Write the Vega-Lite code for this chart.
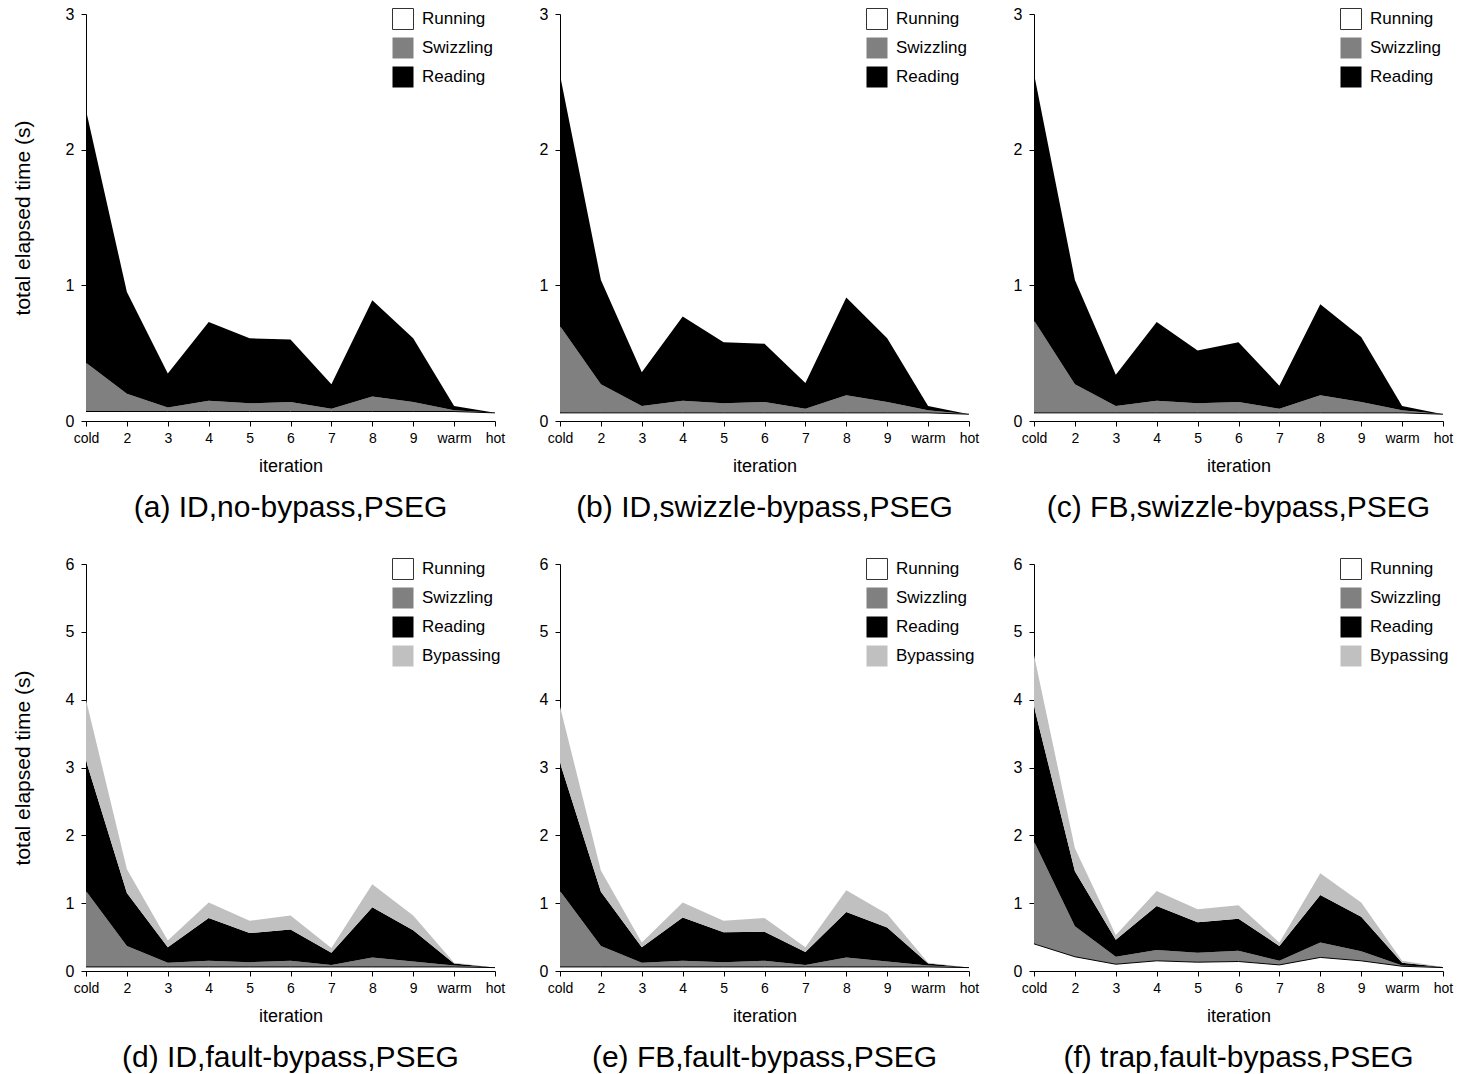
{
  "$schema": "https://vega.github.io/schema/vega-lite/v6.json",
  "padding": {"left": 12, "top": 6, "right": 5, "bottom": 5},
  "background": "white",
  "datasets": {
    "ph": [
      {"phase": "Running", "rank": 1},
      {"phase": "Swizzling", "rank": 2},
      {"phase": "Reading", "rank": 3},
      {"phase": "Bypassing", "rank": 4}
    ],
    "d": [
      {"p": "a", "it": "cold", "Running": 0.07, "Swizzling": 0.36, "Reading": 1.86},
      {"p": "a", "it": "2", "Running": 0.07, "Swizzling": 0.13, "Reading": 0.75},
      {"p": "a", "it": "3", "Running": 0.07, "Swizzling": 0.03, "Reading": 0.25},
      {"p": "a", "it": "4", "Running": 0.07, "Swizzling": 0.08, "Reading": 0.58},
      {"p": "a", "it": "5", "Running": 0.07, "Swizzling": 0.06, "Reading": 0.48},
      {"p": "a", "it": "6", "Running": 0.07, "Swizzling": 0.07, "Reading": 0.46},
      {"p": "a", "it": "7", "Running": 0.07, "Swizzling": 0.02, "Reading": 0.18},
      {"p": "a", "it": "8", "Running": 0.07, "Swizzling": 0.11, "Reading": 0.71},
      {"p": "a", "it": "9", "Running": 0.07, "Swizzling": 0.07, "Reading": 0.47},
      {"p": "a", "it": "warm", "Running": 0.07, "Swizzling": 0.01, "Reading": 0.03},
      {"p": "a", "it": "hot", "Running": 0.06, "Swizzling": 0, "Reading": 0},

      {"p": "b", "it": "cold", "Running": 0.06, "Swizzling": 0.64, "Reading": 1.85},
      {"p": "b", "it": "2", "Running": 0.06, "Swizzling": 0.21, "Reading": 0.77},
      {"p": "b", "it": "3", "Running": 0.06, "Swizzling": 0.05, "Reading": 0.25},
      {"p": "b", "it": "4", "Running": 0.06, "Swizzling": 0.09, "Reading": 0.62},
      {"p": "b", "it": "5", "Running": 0.06, "Swizzling": 0.07, "Reading": 0.45},
      {"p": "b", "it": "6", "Running": 0.06, "Swizzling": 0.08, "Reading": 0.43},
      {"p": "b", "it": "7", "Running": 0.06, "Swizzling": 0.03, "Reading": 0.19},
      {"p": "b", "it": "8", "Running": 0.06, "Swizzling": 0.13, "Reading": 0.72},
      {"p": "b", "it": "9", "Running": 0.06, "Swizzling": 0.08, "Reading": 0.47},
      {"p": "b", "it": "warm", "Running": 0.06, "Swizzling": 0.02, "Reading": 0.03},
      {"p": "b", "it": "hot", "Running": 0.05, "Swizzling": 0, "Reading": 0},

      {"p": "c", "it": "cold", "Running": 0.06, "Swizzling": 0.68, "Reading": 1.82},
      {"p": "c", "it": "2", "Running": 0.06, "Swizzling": 0.21, "Reading": 0.77},
      {"p": "c", "it": "3", "Running": 0.06, "Swizzling": 0.05, "Reading": 0.23},
      {"p": "c", "it": "4", "Running": 0.06, "Swizzling": 0.09, "Reading": 0.58},
      {"p": "c", "it": "5", "Running": 0.06, "Swizzling": 0.07, "Reading": 0.39},
      {"p": "c", "it": "6", "Running": 0.06, "Swizzling": 0.08, "Reading": 0.44},
      {"p": "c", "it": "7", "Running": 0.06, "Swizzling": 0.03, "Reading": 0.17},
      {"p": "c", "it": "8", "Running": 0.06, "Swizzling": 0.13, "Reading": 0.67},
      {"p": "c", "it": "9", "Running": 0.06, "Swizzling": 0.08, "Reading": 0.48},
      {"p": "c", "it": "warm", "Running": 0.06, "Swizzling": 0.02, "Reading": 0.03},
      {"p": "c", "it": "hot", "Running": 0.05, "Swizzling": 0, "Reading": 0},

      {"p": "d", "it": "cold", "Running": 0.06, "Swizzling": 1.12, "Reading": 1.92, "Bypassing": 0.9},
      {"p": "d", "it": "2", "Running": 0.06, "Swizzling": 0.31, "Reading": 0.78, "Bypassing": 0.35},
      {"p": "d", "it": "3", "Running": 0.06, "Swizzling": 0.06, "Reading": 0.23, "Bypassing": 0.1},
      {"p": "d", "it": "4", "Running": 0.06, "Swizzling": 0.09, "Reading": 0.63, "Bypassing": 0.23},
      {"p": "d", "it": "5", "Running": 0.06, "Swizzling": 0.07, "Reading": 0.43, "Bypassing": 0.18},
      {"p": "d", "it": "6", "Running": 0.06, "Swizzling": 0.09, "Reading": 0.46, "Bypassing": 0.21},
      {"p": "d", "it": "7", "Running": 0.06, "Swizzling": 0.03, "Reading": 0.18, "Bypassing": 0.07},
      {"p": "d", "it": "8", "Running": 0.06, "Swizzling": 0.14, "Reading": 0.74, "Bypassing": 0.34},
      {"p": "d", "it": "9", "Running": 0.06, "Swizzling": 0.08, "Reading": 0.46, "Bypassing": 0.22},
      {"p": "d", "it": "warm", "Running": 0.06, "Swizzling": 0.02, "Reading": 0.03, "Bypassing": 0.01},
      {"p": "d", "it": "hot", "Running": 0.05, "Swizzling": 0, "Reading": 0, "Bypassing": 0},

      {"p": "e", "it": "cold", "Running": 0.06, "Swizzling": 1.12, "Reading": 1.89, "Bypassing": 0.83},
      {"p": "e", "it": "2", "Running": 0.06, "Swizzling": 0.31, "Reading": 0.8, "Bypassing": 0.31},
      {"p": "e", "it": "3", "Running": 0.06, "Swizzling": 0.06, "Reading": 0.23, "Bypassing": 0.07},
      {"p": "e", "it": "4", "Running": 0.06, "Swizzling": 0.09, "Reading": 0.64, "Bypassing": 0.22},
      {"p": "e", "it": "5", "Running": 0.06, "Swizzling": 0.07, "Reading": 0.44, "Bypassing": 0.17},
      {"p": "e", "it": "6", "Running": 0.06, "Swizzling": 0.09, "Reading": 0.43, "Bypassing": 0.2},
      {"p": "e", "it": "7", "Running": 0.06, "Swizzling": 0.03, "Reading": 0.19, "Bypassing": 0.07},
      {"p": "e", "it": "8", "Running": 0.06, "Swizzling": 0.14, "Reading": 0.67, "Bypassing": 0.32},
      {"p": "e", "it": "9", "Running": 0.06, "Swizzling": 0.08, "Reading": 0.5, "Bypassing": 0.2},
      {"p": "e", "it": "warm", "Running": 0.06, "Swizzling": 0.02, "Reading": 0.03, "Bypassing": 0.01},
      {"p": "e", "it": "hot", "Running": 0.05, "Swizzling": 0, "Reading": 0, "Bypassing": 0},

      {"p": "f", "it": "cold", "Running": 0.4, "Swizzling": 1.51, "Reading": 1.99, "Bypassing": 0.76},
      {"p": "f", "it": "2", "Running": 0.21, "Swizzling": 0.45, "Reading": 0.81, "Bypassing": 0.34},
      {"p": "f", "it": "3", "Running": 0.1, "Swizzling": 0.11, "Reading": 0.25, "Bypassing": 0.07},
      {"p": "f", "it": "4", "Running": 0.15, "Swizzling": 0.16, "Reading": 0.65, "Bypassing": 0.22},
      {"p": "f", "it": "5", "Running": 0.13, "Swizzling": 0.14, "Reading": 0.45, "Bypassing": 0.19},
      {"p": "f", "it": "6", "Running": 0.14, "Swizzling": 0.16, "Reading": 0.47, "Bypassing": 0.2},
      {"p": "f", "it": "7", "Running": 0.09, "Swizzling": 0.06, "Reading": 0.22, "Bypassing": 0.05},
      {"p": "f", "it": "8", "Running": 0.2, "Swizzling": 0.22, "Reading": 0.7, "Bypassing": 0.32},
      {"p": "f", "it": "9", "Running": 0.15, "Swizzling": 0.14, "Reading": 0.51, "Bypassing": 0.21},
      {"p": "f", "it": "warm", "Running": 0.07, "Swizzling": 0.01, "Reading": 0.04, "Bypassing": 0.03},
      {"p": "f", "it": "hot", "Running": 0.05, "Swizzling": 0.01, "Reading": 0, "Bypassing": 0}
    ]
  },
  "config": {
    "view": {"stroke": null},
    "font": "Liberation Sans",
    "axis": {
      "labelFont": "Liberation Sans", "titleFont": "Liberation Sans",
      "labelColor": "#000", "titleColor": "#000", "domainColor": "#000", "tickColor": "#000",
      "grid": false, "titleFontWeight": "normal", "tickSize": 5, "domainWidth": 1, "tickWidth": 1
    },
    "axisX": {"labelFontSize": 14, "titleFontSize": 18, "labelPadding": 5, "titlePadding": 12, "labelAngle": 0},
    "axisY": {"labelFontSize": 16, "titleFontSize": 21, "labelPadding": 7, "titlePadding": 32},
    "legend": {
      "orient": "none", "legendX": 306, "legendY": -6, "symbolType": "square", "symbolSize": 441,
      "labelFontSize": 17, "labelFont": "Liberation Sans", "labelColor": "#000", "labelOffset": 8,
      "rowPadding": 3, "padding": 0, "symbolStrokeWidth": 1, "symbolOpacity": 1, "labelLimit": 200
    },
    "title": {"font": "Liberation Sans", "fontSize": 30, "fontWeight": "normal", "color": "#000", "offset": 18, "orient": "bottom", "frame": "group", "anchor": "middle"}
  },
  "columns": 3,
  "spacing": {"row": 143, "column": 65},
  "bounds": "flush",
  "resolve": {"scale": {"color": "independent"}, "legend": {"color": "independent"}},
  "concat": [
    {
      "width": 409, "height": 407,
      "title": {"text": "(a) ID,no-bypass,PSEG"},
      "data": {"name": "d"},
      "transform": [{"filter": "datum.p === 'a'"}, {"fold": ["Running", "Swizzling", "Reading"], "as": ["phase", "t"]},
        {"lookup": "phase", "from": {"data": {"name": "ph"}, "key": "phase", "fields": ["rank"]}}],
      "encoding": {
        "x": {"field": "it", "type": "ordinal", "sort": ["cold", "2", "3", "4", "5", "6", "7", "8", "9", "warm", "hot"], "scale": {"type": "point", "padding": 0}, "axis": {"title": "iteration"}},
        "y": {"field": "t", "type": "quantitative", "stack": "zero", "scale": {"domain": [0, 3], "nice": false}, "axis": {"title": "total elapsed time (s)", "values": [0, 1, 2, 3]}}
      },
      "layer": [
        {
          "mark": {"type": "area", "opacity": 1},
          "encoding": {
            "order": {"field": "rank", "type": "quantitative"},
            "color": {"field": "phase", "type": "nominal", "scale": {"domain": ["Running", "Swizzling", "Reading"], "range": ["#ffffff", "#808080", "#000000"]},
              "legend": {"title": null, "encode": {"symbols": {"update": {"stroke": {"signal": "datum.value === 'Running' ? '#333333' : 'transparent'"}}}}}}
          }
        },
        {
          "transform": [{"filter": "datum.phase === 'Running'"}],
          "mark": {"type": "line", "color": "#000", "strokeWidth": 1},
          "encoding": {"y": {"field": "t", "type": "quantitative", "stack": null}}
        }
      ]
    },
    {
      "width": 409, "height": 407,
      "title": {"text": "(b) ID,swizzle-bypass,PSEG"},
      "data": {"name": "d"},
      "transform": [{"filter": "datum.p === 'b'"}, {"fold": ["Running", "Swizzling", "Reading"], "as": ["phase", "t"]},
        {"lookup": "phase", "from": {"data": {"name": "ph"}, "key": "phase", "fields": ["rank"]}}],
      "encoding": {
        "x": {"field": "it", "type": "ordinal", "sort": ["cold", "2", "3", "4", "5", "6", "7", "8", "9", "warm", "hot"], "scale": {"type": "point", "padding": 0}, "axis": {"title": "iteration"}},
        "y": {"field": "t", "type": "quantitative", "stack": "zero", "scale": {"domain": [0, 3], "nice": false}, "axis": {"title": null, "values": [0, 1, 2, 3]}}
      },
      "layer": [
        {
          "mark": {"type": "area", "opacity": 1},
          "encoding": {
            "order": {"field": "rank", "type": "quantitative"},
            "color": {"field": "phase", "type": "nominal", "scale": {"domain": ["Running", "Swizzling", "Reading"], "range": ["#ffffff", "#808080", "#000000"]},
              "legend": {"title": null, "encode": {"symbols": {"update": {"stroke": {"signal": "datum.value === 'Running' ? '#333333' : 'transparent'"}}}}}}
          }
        },
        {
          "transform": [{"filter": "datum.phase === 'Running'"}],
          "mark": {"type": "line", "color": "#000", "strokeWidth": 1},
          "encoding": {"y": {"field": "t", "type": "quantitative", "stack": null}}
        }
      ]
    },
    {
      "width": 409, "height": 407,
      "title": {"text": "(c) FB,swizzle-bypass,PSEG"},
      "data": {"name": "d"},
      "transform": [{"filter": "datum.p === 'c'"}, {"fold": ["Running", "Swizzling", "Reading"], "as": ["phase", "t"]},
        {"lookup": "phase", "from": {"data": {"name": "ph"}, "key": "phase", "fields": ["rank"]}}],
      "encoding": {
        "x": {"field": "it", "type": "ordinal", "sort": ["cold", "2", "3", "4", "5", "6", "7", "8", "9", "warm", "hot"], "scale": {"type": "point", "padding": 0}, "axis": {"title": "iteration"}},
        "y": {"field": "t", "type": "quantitative", "stack": "zero", "scale": {"domain": [0, 3], "nice": false}, "axis": {"title": null, "values": [0, 1, 2, 3]}}
      },
      "layer": [
        {
          "mark": {"type": "area", "opacity": 1},
          "encoding": {
            "order": {"field": "rank", "type": "quantitative"},
            "color": {"field": "phase", "type": "nominal", "scale": {"domain": ["Running", "Swizzling", "Reading"], "range": ["#ffffff", "#808080", "#000000"]},
              "legend": {"title": null, "encode": {"symbols": {"update": {"stroke": {"signal": "datum.value === 'Running' ? '#333333' : 'transparent'"}}}}}}
          }
        },
        {
          "transform": [{"filter": "datum.phase === 'Running'"}],
          "mark": {"type": "line", "color": "#000", "strokeWidth": 1},
          "encoding": {"y": {"field": "t", "type": "quantitative", "stack": null}}
        }
      ]
    },
    {
      "width": 409, "height": 407,
      "title": {"text": "(d) ID,fault-bypass,PSEG"},
      "data": {"name": "d"},
      "transform": [{"filter": "datum.p === 'd'"}, {"fold": ["Running", "Swizzling", "Reading", "Bypassing"], "as": ["phase", "t"]},
        {"lookup": "phase", "from": {"data": {"name": "ph"}, "key": "phase", "fields": ["rank"]}}],
      "encoding": {
        "x": {"field": "it", "type": "ordinal", "sort": ["cold", "2", "3", "4", "5", "6", "7", "8", "9", "warm", "hot"], "scale": {"type": "point", "padding": 0}, "axis": {"title": "iteration"}},
        "y": {"field": "t", "type": "quantitative", "stack": "zero", "scale": {"domain": [0, 6], "nice": false}, "axis": {"title": "total elapsed time (s)", "values": [0, 1, 2, 3, 4, 5, 6]}}
      },
      "layer": [
        {
          "mark": {"type": "area", "opacity": 1},
          "encoding": {
            "order": {"field": "rank", "type": "quantitative"},
            "color": {"field": "phase", "type": "nominal", "scale": {"domain": ["Running", "Swizzling", "Reading", "Bypassing"], "range": ["#ffffff", "#808080", "#000000", "#c0c0c0"]},
              "legend": {"title": null, "encode": {"symbols": {"update": {"stroke": {"signal": "datum.value === 'Running' ? '#333333' : 'transparent'"}}}}}}
          }
        },
        {
          "transform": [{"filter": "datum.phase === 'Running'"}],
          "mark": {"type": "line", "color": "#000", "strokeWidth": 1},
          "encoding": {"y": {"field": "t", "type": "quantitative", "stack": null}}
        }
      ]
    },
    {
      "width": 409, "height": 407,
      "title": {"text": "(e) FB,fault-bypass,PSEG"},
      "data": {"name": "d"},
      "transform": [{"filter": "datum.p === 'e'"}, {"fold": ["Running", "Swizzling", "Reading", "Bypassing"], "as": ["phase", "t"]},
        {"lookup": "phase", "from": {"data": {"name": "ph"}, "key": "phase", "fields": ["rank"]}}],
      "encoding": {
        "x": {"field": "it", "type": "ordinal", "sort": ["cold", "2", "3", "4", "5", "6", "7", "8", "9", "warm", "hot"], "scale": {"type": "point", "padding": 0}, "axis": {"title": "iteration"}},
        "y": {"field": "t", "type": "quantitative", "stack": "zero", "scale": {"domain": [0, 6], "nice": false}, "axis": {"title": null, "values": [0, 1, 2, 3, 4, 5, 6]}}
      },
      "layer": [
        {
          "mark": {"type": "area", "opacity": 1},
          "encoding": {
            "order": {"field": "rank", "type": "quantitative"},
            "color": {"field": "phase", "type": "nominal", "scale": {"domain": ["Running", "Swizzling", "Reading", "Bypassing"], "range": ["#ffffff", "#808080", "#000000", "#c0c0c0"]},
              "legend": {"title": null, "encode": {"symbols": {"update": {"stroke": {"signal": "datum.value === 'Running' ? '#333333' : 'transparent'"}}}}}}
          }
        },
        {
          "transform": [{"filter": "datum.phase === 'Running'"}],
          "mark": {"type": "line", "color": "#000", "strokeWidth": 1},
          "encoding": {"y": {"field": "t", "type": "quantitative", "stack": null}}
        }
      ]
    },
    {
      "width": 409, "height": 407,
      "title": {"text": "(f) trap,fault-bypass,PSEG"},
      "data": {"name": "d"},
      "transform": [{"filter": "datum.p === 'f'"}, {"fold": ["Running", "Swizzling", "Reading", "Bypassing"], "as": ["phase", "t"]},
        {"lookup": "phase", "from": {"data": {"name": "ph"}, "key": "phase", "fields": ["rank"]}}],
      "encoding": {
        "x": {"field": "it", "type": "ordinal", "sort": ["cold", "2", "3", "4", "5", "6", "7", "8", "9", "warm", "hot"], "scale": {"type": "point", "padding": 0}, "axis": {"title": "iteration"}},
        "y": {"field": "t", "type": "quantitative", "stack": "zero", "scale": {"domain": [0, 6], "nice": false}, "axis": {"title": null, "values": [0, 1, 2, 3, 4, 5, 6]}}
      },
      "layer": [
        {
          "mark": {"type": "area", "opacity": 1},
          "encoding": {
            "order": {"field": "rank", "type": "quantitative"},
            "color": {"field": "phase", "type": "nominal", "scale": {"domain": ["Running", "Swizzling", "Reading", "Bypassing"], "range": ["#ffffff", "#808080", "#000000", "#c0c0c0"]},
              "legend": {"title": null, "encode": {"symbols": {"update": {"stroke": {"signal": "datum.value === 'Running' ? '#333333' : 'transparent'"}}}}}}
          }
        },
        {
          "transform": [{"filter": "datum.phase === 'Running'"}],
          "mark": {"type": "line", "color": "#000", "strokeWidth": 1},
          "encoding": {"y": {"field": "t", "type": "quantitative", "stack": null}}
        }
      ]
    }
  ]
}
